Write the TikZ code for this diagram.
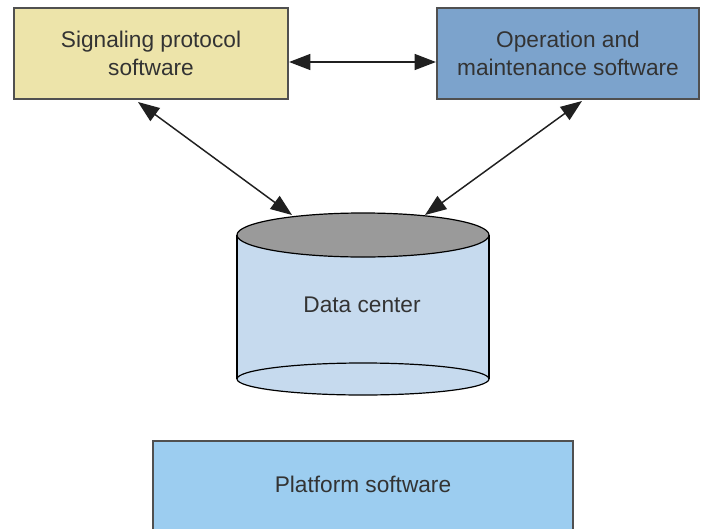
\documentclass[tikz,border=0pt]{standalone}
\usepackage{fontspec}
\setmainfont{Liberation Sans}
\usetikzlibrary{arrows.meta}
\definecolor{sigfill}{HTML}{EDE4AA}
\definecolor{opfill}{HTML}{7CA3CC}
\definecolor{platfill}{HTML}{9CCDF0}
\definecolor{cylside}{HTML}{C6DAEE}
\definecolor{cyltop}{HTML}{9A9A9A}
\definecolor{edgegray}{HTML}{505050}
\definecolor{txt}{HTML}{333333}
\definecolor{linkgray}{HTML}{202020}
\tikzset{
  box/.style={draw=edgegray, line width=1.6pt, text=txt, align=center, inner sep=0pt,
    font=\fontsize{17}{21}\selectfont},
  link/.style={draw=linkgray, line width=1.1pt, {Triangle[length=16pt,width=12pt]}-{Triangle[length=16pt,width=12pt]}},
  cyl/.style={draw=black, line width=0.9pt}
}
\begin{document}
\begin{tikzpicture}[x=0.75pt,y=-0.75pt]
\useasboundingbox[fill=white] (0,0) rectangle (701,529);
% boxes
\node[box, fill=sigfill, minimum width=274*0.75pt, minimum height=91*0.75pt] (sig) at (151,53.5) {Signaling protocol\\software};
\node[box, fill=opfill, minimum width=262*0.75pt, minimum height=91*0.75pt] (op) at (568,53.5) {Operation and\\maintenance software};
% platform box (extends below the picture)
\begin{scope}
\clip (0,0) rectangle (701,529);
\node[box, fill=platfill, minimum width=420*0.75pt, minimum height=120*0.75pt, anchor=north] (plat) at (363,440) {};
\end{scope}
\node[text=txt, font=\fontsize{17}{21}\selectfont] (plattext) at (363,484) {Platform software};
% cylinder
\fill[cylside] (237,235) -- (237,379) arc[start angle=180, end angle=360, x radius=126, y radius=16] -- (489,235) -- cycle;
\draw[cyl, fill=cylside] (363,379) ellipse[x radius=126, y radius=16];
\draw[cyl] (237,235) -- (237,379) (489,235) -- (489,379);
\draw[cyl, fill=cyltop] (363,235) ellipse[x radius=126, y radius=22];
\node[text=txt, font=\fontsize{17}{21}\selectfont] (dc) at (362,305) {Data center};
\coordinate (dcl) at (292,215);
\coordinate (dcr) at (425,215);
\coordinate (sigb) at (138,102);
\coordinate (opb) at (582,101);
\coordinate (hy) at (0,62);
% connectors
\draw[link] (sig.east |- hy) -- (op.west |- hy);
\draw[link] (sigb) -- (dcl);
\draw[link] (opb) -- (dcr);
\end{tikzpicture}
\end{document}
